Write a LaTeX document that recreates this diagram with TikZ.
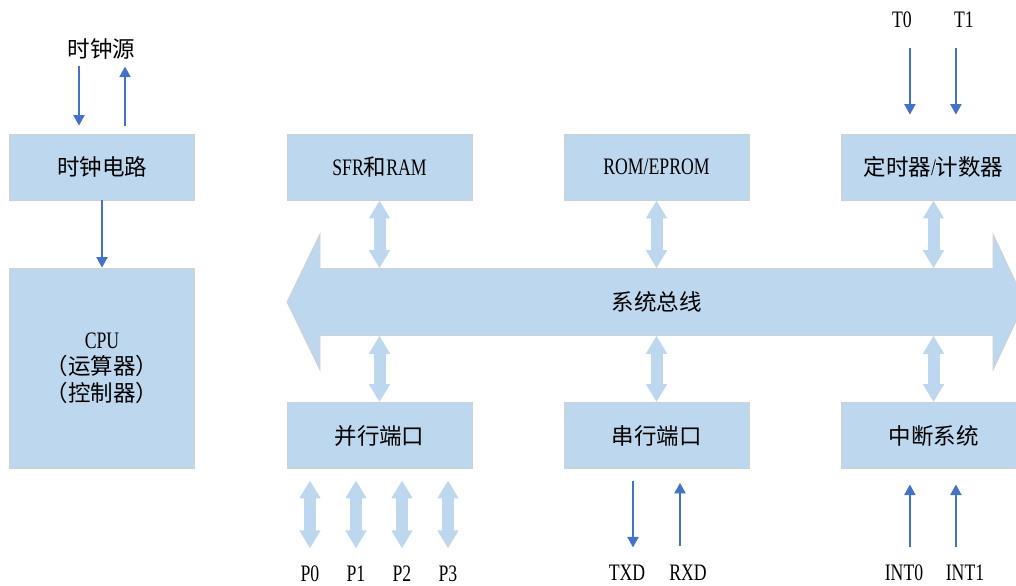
\documentclass[tikz,border=0pt]{standalone}
\usepackage{fontspec}
\setmainfont[FakeStretch=0.75, Scale=1.05]{Liberation Serif}
\newfontfamily\cjk{Noto Sans CJK SC}
\usepackage{xcolor}
\usepackage{tikz}
\usetikzlibrary{arrows.meta, positioning, calc}

\definecolor{boxblue}{HTML}{BDD7EE}
\definecolor{boxline}{HTML}{D0D0D0}
\definecolor{sigblue}{HTML}{4472C4}

\tikzset{
  unit/.style={draw=boxline, fill=boxblue, line width=0.6pt,
    minimum width=4.625cm, minimum height=1.65cm,
    font=\fontsize{16}{19}\selectfont},
  dbl/.style={draw=boxblue, line width=0.3cm,
    {Triangle[width=0.5cm,length=0.45cm]}-{Triangle[width=0.5cm,length=0.45cm]}},
  sig/.style={draw=sigblue, line width=1pt, -{Triangle[width=8pt,length=7.5pt]}},
  pin/.style={inner sep=0pt, text height=11pt, text depth=0pt,
    font=\fontsize{16}{19}\selectfont}
}

\begin{document}
\begin{tikzpicture}
    \useasboundingbox (0,0) rectangle (25.4,14.625);

    % System bus in the middle
    \filldraw[fill=boxblue, draw=boxline, line width=0.6pt]
        (7.175,7.075) -- (8.0,8.775) -- (8.0,7.9125) -- (24.825,7.9125)
        -- (24.825,8.775) -- (25.625,7.075) -- (24.825,5.375)
        -- (24.825,6.2375) -- (8.0,6.2375) -- (8.0,5.375) -- cycle;
    \node[inner sep=0pt, minimum width=16.825cm, minimum height=1.675cm,
        font=\fontsize{16}{19}\selectfont] (bus) at (16.4125,7.075) {\cjk 系统总线};

    % Clock and CPU on the left
    \node[unit] (clk) at (2.55,10.45) {\cjk 时钟电路};
    \node[unit, minimum height=5cm, align=center] (cpu) at (2.55,5.425)
        {CPU\\{\cjk （运算器）}\\{\cjk （控制器）}};
    \node[pin] (src) at (2.54,13.375) {\cjk 时钟源};
    \draw[sig] ($(clk.north)+(-0.575,1.7)$) -- ($(clk.north)+(-0.575,0.2)$);
    \draw[sig] ($(clk.north)+(0.575,0.2)$) -- ($(clk.north)+(0.575,1.675)$);
    \draw[sig] (clk) -- (cpu);

    % Units above and below the bus
    \node[unit] (sfr) at (9.4875,10.45) {SFR{\cjk 和}RAM};
    \node[unit] (rom) at (16.4125,10.45) {ROM/EPROM};
    \node[unit] (tmr) at (23.3375,10.45) {{\cjk 定时器}/{\cjk 计数器}};
    \node[unit] (par) at (9.4875,3.7375) {\cjk 并行端口};
    \node[unit] (ser) at (16.4125,3.7375) {\cjk 串行端口};
    \node[unit] (irq) at (23.3375,3.7375) {\cjk 中断系统};

    \foreach \u in {sfr,rom,tmr}
        \draw[dbl] (\u.south) -- (\u.south |- bus.north);
    \foreach \u in {par,ser,irq}
        \draw[dbl] (\u.north) -- (\u.north |- bus.south);

    % Timer inputs
    \node[pin] (t0) at (22.55,14.125) {T0};
    \node[pin] (t1) at (24.1,14.125) {T1};
    \draw[sig] ($(tmr.north)+(-0.59,2.15)$) -- ($(tmr.north)+(-0.59,0.475)$);
    \draw[sig] ($(tmr.north)+(0.56,2.15)$) -- ($(tmr.north)+(0.56,0.475)$);

    % Parallel port lines
    \foreach \i/\dx in {0/-1.7375,1/-0.5875,2/0.5625,3/1.7125} {
        \node[pin] (p\i) at ($(par.south)+(\dx,-2.6125)$) {P\i};
        \draw[dbl] ($(par.south)+(\dx,-0.2875)$) -- ($(par.south)+(\dx,-1.9875)$);
    }

    % Serial port lines
    \node[pin] (txd) at (15.675,0.3) {TXD};
    \node[pin] (rxd) at (17.2,0.3) {RXD};
    \draw[sig] ($(ser.south)+(-0.5875,-0.3)$) -- ($(ser.south)+(-0.5875,-1.9625)$);
    \draw[sig] ($(ser.south)+(0.5875,-1.9375)$) -- ($(ser.south)+(0.5875,-0.35)$);

    % Interrupt inputs
    \node[pin] (int0) at (22.6,0.3) {INT0};
    \node[pin] (int1) at (24.125,0.3) {INT1};
    \draw[sig] ($(irq.south)+(-0.59,-1.96)$) -- ($(irq.south)+(-0.59,-0.39)$);
    \draw[sig] ($(irq.south)+(0.56,-1.96)$) -- ($(irq.south)+(0.56,-0.39)$);

\end{tikzpicture}
\end{document}
